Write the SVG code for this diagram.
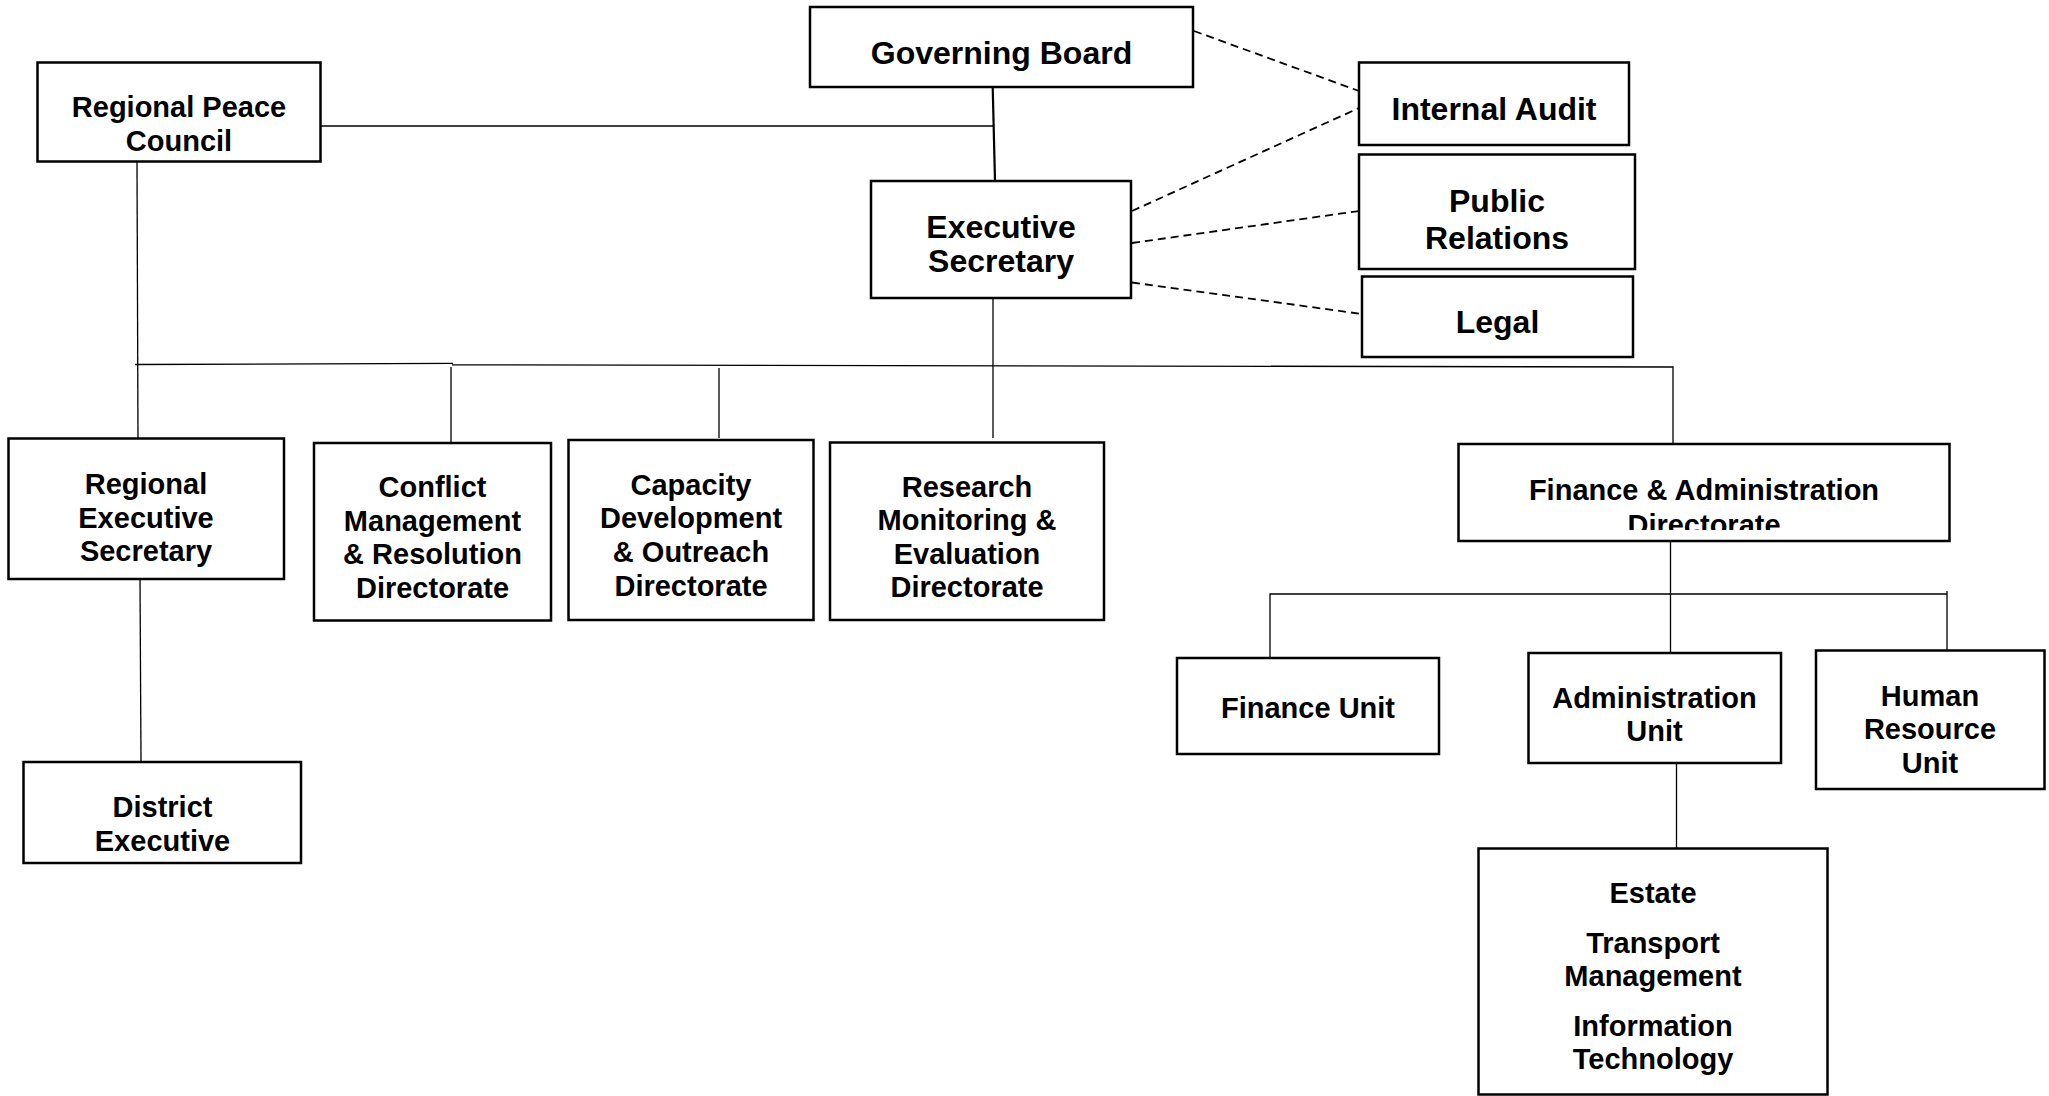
<svg xmlns="http://www.w3.org/2000/svg" width="2049" height="1096" viewBox="0 0 2049 1096">
<style>
  .box { fill: #ffffff; stroke: #000000; stroke-width: 2.5; }
  .t { font-family: "Liberation Sans", Arial, sans-serif; font-weight: bold; fill: #000000; text-anchor: middle; }
  .f29 { font-size: 29px; }
  .f32 { font-size: 32px; }
  .ln { fill: none; stroke: #000000; stroke-width: 1.3; }
  .thick { fill: none; stroke: #000000; stroke-width: 2.2; }
  .dash { fill: none; stroke: #000000; stroke-width: 1.8; stroke-dasharray: 8 5; }
</style>
<defs>
  <clipPath id="faClip"><rect x="1458" y="444" width="492" height="86"/></clipPath>
</defs>
<rect x="0" y="0" width="2049" height="1096" fill="#ffffff"/>

<g id="connectors">
  <line class="ln" x1="321" y1="126" x2="993" y2="126"/>
  <line class="thick" x1="992.7" y1="87" x2="995" y2="181"/>
  <line class="ln" x1="137" y1="162" x2="138" y2="438"/>
  <line class="ln" x1="993" y1="298" x2="993" y2="438"/>
  <polyline class="ln" points="135,364.5 453,363.3"/>
  <polyline class="ln" points="452,364.8 1673,367 1673,444"/>
  <line class="ln" x1="451" y1="367" x2="451" y2="442"/>
  <line class="ln" x1="719" y1="368" x2="719" y2="438"/>
  <line class="ln" x1="140" y1="579" x2="141" y2="762"/>
  <line class="ln" x1="1670.5" y1="541" x2="1670.5" y2="653"/>
  <polyline class="ln" points="1270,658 1270,594 1947,594"/>
  <line class="ln" x1="1947" y1="591" x2="1947" y2="656"/>
  <line class="ln" x1="1676.5" y1="763" x2="1676.5" y2="848"/>
  <line class="dash" x1="1194" y1="31" x2="1359" y2="91"/>
  <line class="dash" x1="1132" y1="211" x2="1359" y2="108"/>
  <line class="dash" x1="1132" y1="243" x2="1359" y2="211"/>
  <line class="dash" x1="1132" y1="282.5" x2="1362" y2="314"/>
</g>

<g id="governing-board">
  <rect class="box" x="810" y="7" width="383" height="80"/>
  <text class="t f32" x="1001.5" y="64">Governing Board</text>
</g>

<g id="regional-peace-council">
  <rect class="box" x="37.5" y="62.5" width="283" height="99"/>
  <text class="t f29" x="179" y="117">Regional Peace</text>
  <text class="t f29" x="179" y="150.5">Council</text>
</g>

<g id="executive-secretary">
  <rect class="box" x="871" y="181" width="260" height="117"/>
  <text class="t f32" x="1001" y="237.5">Executive</text>
  <text class="t f32" x="1001" y="272">Secretary</text>
</g>

<g id="internal-audit">
  <rect class="box" x="1359" y="62.5" width="270" height="82.5"/>
  <text class="t f32" x="1494" y="120">Internal Audit</text>
</g>

<g id="public-relations">
  <rect class="box" x="1359" y="154.5" width="276" height="114.5"/>
  <text class="t f32" x="1497" y="211.5">Public</text>
  <text class="t f32" x="1497" y="248.5">Relations</text>
</g>

<g id="legal">
  <rect class="box" x="1362" y="276.5" width="271" height="80.5"/>
  <text class="t f32" x="1497.5" y="333">Legal</text>
</g>

<g id="regional-executive-secretary">
  <rect class="box" x="8.5" y="438.5" width="275.5" height="140.5"/>
  <text class="t f29" x="146" y="494">Regional</text>
  <text class="t f29" x="146" y="527.5">Executive</text>
  <text class="t f29" x="146" y="561">Secretary</text>
</g>

<g id="conflict-management">
  <rect class="box" x="314" y="443" width="237" height="177.5"/>
  <text class="t f29" x="432.5" y="497">Conflict</text>
  <text class="t f29" x="432.5" y="531">Management</text>
  <text class="t f29" x="432.5" y="564">&amp; Resolution</text>
  <text class="t f29" x="432.5" y="598">Directorate</text>
</g>

<g id="capacity-development">
  <rect class="box" x="568.5" y="440" width="245" height="180"/>
  <text class="t f29" x="691" y="494.5">Capacity</text>
  <text class="t f29" x="691" y="528">Development</text>
  <text class="t f29" x="691" y="562">&amp; Outreach</text>
  <text class="t f29" x="691" y="596">Directorate</text>
</g>

<g id="research-monitoring">
  <rect class="box" x="830" y="442.5" width="274" height="177.5"/>
  <text class="t f29" x="967" y="497">Research</text>
  <text class="t f29" x="967" y="530">Monitoring &amp;</text>
  <text class="t f29" x="967" y="563.5">Evaluation</text>
  <text class="t f29" x="967" y="597">Directorate</text>
</g>

<g id="district-executive">
  <rect class="box" x="23.5" y="762" width="277.5" height="101"/>
  <text class="t f29" x="162.5" y="817">District</text>
  <text class="t f29" x="162.5" y="850.5">Executive</text>
</g>

<g id="finance-administration">
  <rect class="box" x="1458.5" y="444" width="491" height="97"/>
  <text class="t f29" x="1704" y="499.5">Finance &amp; Administration</text>
  <text class="t f29" x="1704" y="535" clip-path="url(#faClip)">Directorate</text>
</g>

<g id="finance-unit">
  <rect class="box" x="1177" y="658" width="262" height="96"/>
  <text class="t f29" x="1308" y="718">Finance Unit</text>
</g>

<g id="administration-unit">
  <rect class="box" x="1528.5" y="653" width="252.5" height="110"/>
  <text class="t f29" x="1654.5" y="708">Administration</text>
  <text class="t f29" x="1654.5" y="741">Unit</text>
</g>

<g id="human-resource-unit">
  <rect class="box" x="1816" y="650.5" width="228.5" height="138.5"/>
  <text class="t f29" x="1930" y="706">Human</text>
  <text class="t f29" x="1930" y="739">Resource</text>
  <text class="t f29" x="1930" y="772.5">Unit</text>
</g>

<g id="admin-subunits">
  <rect class="box" x="1478.5" y="848.5" width="349" height="246"/>
  <text class="t f29" x="1653" y="902.5">Estate</text>
  <text class="t f29" x="1653" y="952.5">Transport</text>
  <text class="t f29" x="1653" y="985.5">Management</text>
  <text class="t f29" x="1653" y="1036">Information</text>
  <text class="t f29" x="1653" y="1068.5">Technology</text>
</g>
</svg>
